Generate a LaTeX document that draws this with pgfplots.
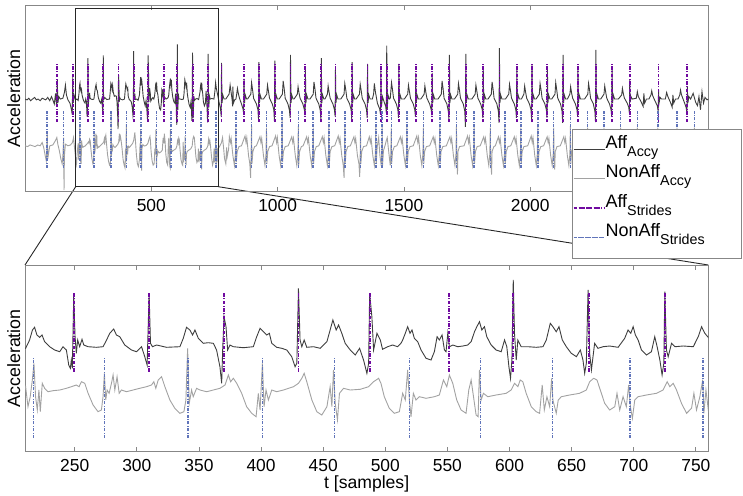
\documentclass[border=0pt]{standalone}
\usepackage{fontspec}
\setmainfont{Liberation Sans}
\usepackage{pgfplots}
\usepackage{pgfplotstable}
\pgfplotsset{compat=1.18}
\definecolor{affc}{RGB}{62,62,62}
\definecolor{nonc}{RGB}{162,162,162}
\definecolor{purp}{RGB}{112,10,160}
\definecolor{bluS}{RGB}{96,116,186}
\definecolor{axgray}{RGB}{135,135,135}
\tikzset{
 affS/.style={color=purp, line width=1.8pt, dash pattern=on 3.5pt off 1.5pt on 1pt off 1.5pt},
 nonS/.style={color=bluS, line width=1.5pt, dash pattern=on 3pt off 1.5pt on 0.8pt off 1.5pt},
}
\newcommand\sub[1]{\raisebox{-8pt}{\fontsize{14.3}{15}\selectfont #1}}
\pgfplotsset{
 myax/.style={
  scale only axis, width=683.3pt, height=186.7pt,
  axis line style={draw=axgray, line width=0.8pt},
  tick style={draw=axgray, line width=0.8pt},
  major tick length=5pt, tick align=inside,
  ytick=\empty,
  scaled x ticks=false,
  /pgf/number format/assume math mode=true,
  /pgf/number format/1000 sep={},
  xticklabel style={font=\fontsize{17.4}{20}\selectfont, anchor=base, inner sep=0pt, yshift=-19.6pt},
  ylabel={Acceleration},
  ylabel style={font=\fontsize{17.8}{20}\selectfont, at={(axis description cs:-0.0073,0.5)}, anchor=base, inner sep=0pt},
  unbounded coords=jump,
 }
}
\pgfplotstableread[row sep=\\]{t y\\
0 105\\ 8 104\\ 15 106\\ 22 103\\ 30 105\\ 38 107\\ 45 104\\ 52 105\\ 60 103\\ 68 106\\ 75 105\\ 82 104\\ 90 107\\ 98 103\\ 105 108\\ 110 104\\ 116 99\\ 121 112\\ 125 96\\ 128 128\\ 130 100\\ 134 108\\ 140 105\\ 150 106\\ 156 113\\ 160 122\\ 164 110\\ 170 104\\ 178 100\\ 184 92\\ 187 86\\ 189 132\\ 191 100\\ 194 110\\ 200 104\\ 205 105\\
210.5 103.4\\ 213.7 111.7\\ 216 121.7\\ 217.7 124.4\\ 219.6 116.7\\ 221.8 114.4\\ 223.7 116.7\\ 225.8 110\\ 229.8 105\\ 233.9 101.7\\ 237.9 100\\ 240.6 105\\ 243.3 101.7\\ 245.2 86.7\\ 246.5 83.4\\ 247.3 91.7\\ 248.1 83.4\\ 249.2 155\\ 250.3 115\\ 251.3 98.4\\ 252.4 111.7\\ 254 105\\ 255.9 112.4\\ 257.3 106.7\\ 260.8 105\\ 267.5 104.4\\ 272.8 105\\ 275 110\\ 278.2 118.4\\ 281.4 122.7\\ 283.6 116.7\\ 286.3 115\\ 290.3 106.7\\ 295.7 101.7\\ 299.7 100\\ 303.8 105\\ 306.4 95\\ 308.3 86.7\\ 309.9 158.4\\ 311 108.4\\ 312.6 105\\ 315.9 106.7\\ 323.9 104.4\\ 334.7 105\\ 337.4 113.4\\ 340 124.4\\ 342.7 121.7\\ 344.9 116.7\\ 346.8 121.7\\ 349.5 113.4\\ 353.5 108.4\\ 357.5 109\\ 361.6 108.4\\ 364.2 101.7\\ 366.9 85\\ 368.3 68.4\\ 369.1 101.7\\ 370.2 135\\ 371.8 125\\ 373.1 101.7\\ 375 106.7\\ 377.7 105\\ 385.7 104\\ 393.8 105\\ 396.5 115\\ 399.2 123.4\\ 401.9 120\\ 404.6 116.7\\ 406.7 118.4\\ 408.6 108.4\\ 412.6 104.4\\ 416.7 103.4\\ 420.7 101.7\\ 424.7 95\\ 427.4 85\\ 428.8 88.4\\ 430.1 163.4\\ 431.4 111.7\\ 432.8 105\\ 434.7 111.7\\ 436.8 104.4\\ 442.2 105\\ 447.6 103.4\\ 453 110\\ 455.6 121.7\\ 457.8 131.7\\ 460.5 121.7\\ 462.4 126.7\\ 465 118.4\\ 467.7 108.4\\ 471.8 101.7\\ 475.8 96.7\\ 479.3 103.4\\ 482.5 91.7\\ 485.2 78.4\\ 486.6 88.4\\ 487.4 158.4\\ 489.2 135\\ 490.6 101.7\\ 493.3 118.4\\ 496 111.7\\ 497.8 102.4\\ 501.9 105\\ 505.9 106.7\\ 509.9 105\\ 512.6 108.4\\ 514 111.7\\ 516.1 118.4\\ 518 125\\ 519.9 118.4\\ 521.5 121.7\\ 523.4 113.4\\ 526.1 110\\ 528.8 101.7\\ 532.8 93.4\\ 536.8 91.7\\ 539.5 100\\ 541.7 115\\ 543.5 111.7\\ 545.7 116.7\\ 547.6 101.7\\ 548.9 100\\ 550.3 118.4\\ 551.6 105\\ 554.3 106.7\\ 558.3 105\\ 562.4 105.7\\ 566.4 106.7\\ 569.1 110\\ 571.8 120\\ 573.7 125\\ 575.8 130\\ 577.7 121.7\\ 579.8 125\\ 581.7 115\\ 585.2 106.7\\ 589.2 101.7\\ 593.3 100\\ 596 111.7\\ 597.8 105\\ 599.5 85\\ 600.8 73.4\\ 601.9 91.7\\ 603 171.7\\ 604 118.4\\ 605.4 91.7\\ 606.7 111.7\\ 609.4 105\\ 614.8 105\\ 621.5 104.4\\ 626.9 105\\ 629.6 111.7\\ 632.8 128.4\\ 634.9 125\\ 637.6 120\\ 639.8 125\\ 642.5 111.7\\ 645.7 105\\ 649.7 98.4\\ 653.8 95\\ 657 101.7\\ 659.1 91.7\\ 660.5 78.4\\ 661.8 88.4\\ 663.2 161.7\\ 664.5 98.4\\ 665.9 81.7\\ 668.5 108.4\\ 671.2 103.4\\ 675.3 105\\ 680.6 105.7\\ 687.4 104.4\\ 692.7 113.4\\ 695.4 121.7\\ 697.6 118.4\\ 699.5 125\\ 701.3 116.7\\ 703.5 111.7\\ 706.2 101.7\\ 710.2 96.7\\ 714.2 100\\ 716.9 115\\ 718.8 105\\ 721 91.7\\ 722.8 76.7\\ 724.2 88.4\\ 725 160\\ 726.3 101.7\\ 727.7 95\\ 730.4 108.4\\ 733.1 105\\ 739.8 105.7\\ 747.9 105\\ 751.9 115\\ 754.6 125\\ 757.2 118.4\\ 759.9 114.4\\
764 108\\ 769 100\\ 774 93\\ 776.5 84\\ 778 149\\ 780 100\\ 783 110\\ 788 105\\
795 105\\ 808 111\\ 812 122\\ 816 113\\ 820 104\\ 822 96\\ 823 120\\ 825 100\\ 830 104\\
835 105\\ 838 111\\ 841 118\\ 845 111\\ 849 106\\ 857 99\\ 863 93\\ 865.5 88\\ 867 130\\ 869 100\\ 872 110\\ 877 105\\
881 105\\ 894 111\\ 897 125\\ 901 116\\ 905 106\\ 916 99\\ 922 92\\ 924.5 80\\ 926 150\\ 928 100\\ 931 110\\ 936 105\\
944 105\\ 957 111\\ 960 122\\ 964 114\\ 968 106\\ 979 99\\ 985 92\\ 987.5 78\\ 989 152\\ 991 100\\ 994 110\\ 999 105\\
1006 105\\ 1019 111\\ 1022 127\\ 1026 118\\ 1030 106\\ 1041 99\\ 1047 91\\ 1049.5 82\\ 1051 159\\ 1053 100\\ 1056 110\\ 1061 105\\
1065 105\\ 1078 111\\ 1081 120\\ 1085 112\\ 1089 106\\ 1100 99\\ 1106 92\\ 1108.5 85\\ 1110 142\\ 1112 100\\ 1115 110\\ 1120 105\\
1128 105\\ 1141 111\\ 1144 126\\ 1148 117\\ 1152 106\\ 1163 99\\ 1169 91\\ 1171.5 78\\ 1173 155\\ 1175 100\\ 1178 110\\ 1183 105\\
1187 105\\ 1197 111\\ 1200 121\\ 1204 113\\ 1208 106\\ 1219 99\\ 1225 92\\ 1227.5 84\\ 1229 142\\ 1231 100\\ 1234 110\\ 1239 105\\
1250 105\\ 1263 111\\ 1266 124\\ 1270 116\\ 1274 106\\ 1285 99\\ 1291 92\\ 1293.5 80\\ 1295 150\\ 1297 100\\ 1300 110\\ 1305 105\\
1311 105\\ 1324 111\\ 1327 123\\ 1331 115\\ 1335 106\\ 1346 99\\ 1352 92\\ 1354.5 82\\ 1356 148\\ 1358 100\\ 1361 110\\ 1366 105\\
1375 105\\ 1380 111\\ 1383 124\\ 1387 114\\ 1395 100\\ 1404 93\\ 1407.5 86\\ 1409 140\\ 1411 95\\ 1415 108\\ 1420 103\\ 1428 96\\ 1430.5 88\\ 1432 170\\ 1434 92\\ 1437 110\\ 1442 105\\
1446 106\\ 1451 125\\ 1455 116\\ 1459 106\\ 1470 99\\ 1476 92\\ 1478.5 82\\ 1480 148\\ 1482 100\\ 1485 110\\ 1490 105\\
1502 105\\ 1515 111\\ 1518 122\\ 1522 114\\ 1526 106\\ 1537 99\\ 1543 92\\ 1545.5 84\\ 1547 137\\ 1549 100\\ 1552 110\\ 1557 105\\
1567 105\\ 1580 111\\ 1583 121\\ 1587 113\\ 1591 106\\ 1602 99\\ 1608 92\\ 1610.5 85\\ 1612 137\\ 1614 100\\ 1617 110\\ 1622 105\\
1635 105\\ 1648 111\\ 1651 127\\ 1655 118\\ 1659 106\\ 1670 99\\ 1676 90\\ 1678.5 78\\ 1680 159\\ 1682 100\\ 1685 110\\ 1690 105\\
1700 105\\ 1713 111\\ 1716 124\\ 1720 116\\ 1724 106\\ 1735 99\\ 1741 90\\ 1743.5 71\\ 1745 160\\ 1747 100\\ 1750 110\\ 1755 105\\
1769 105\\ 1782 111\\ 1785 122\\ 1789 114\\ 1793 106\\ 1804 99\\ 1810 92\\ 1812.5 82\\ 1814 145\\ 1816 100\\ 1819 110\\ 1824 105\\
1833 105\\ 1846 111\\ 1849 126\\ 1853 117\\ 1857 106\\ 1868 99\\ 1874 90\\ 1876.5 76\\ 1878 167\\ 1880 100\\ 1883 110\\ 1888 105\\
1902 105\\ 1915 111\\ 1918 123\\ 1922 115\\ 1926 106\\ 1937 99\\ 1943 92\\ 1945.5 82\\ 1947 145\\ 1949 100\\ 1952 110\\ 1957 105\\
1965 105\\ 1975 111\\ 1978 121\\ 1982 113\\ 1986 106\\ 1997 99\\ 2003 92\\ 2005.5 80\\ 2007 147\\ 2009 100\\ 2012 110\\ 2017 105\\
2023 105\\ 2036 111\\ 2039 124\\ 2043 116\\ 2047 106\\ 2058 99\\ 2064 92\\ 2066.5 82\\ 2068 145\\ 2070 100\\ 2073 110\\ 2078 105\\
2085 105\\ 2098 111\\ 2101 125\\ 2105 116\\ 2109 106\\ 2120 99\\ 2126 90\\ 2128.5 76\\ 2130 159\\ 2132 100\\ 2135 110\\ 2140 105\\
2147 105\\ 2157 111\\ 2160 120\\ 2164 112\\ 2168 106\\ 2179 99\\ 2185 92\\ 2187.5 84\\ 2189 142\\ 2191 100\\ 2194 110\\ 2199 105\\
2215 105\\ 2228 111\\ 2231 124\\ 2235 116\\ 2239 106\\ 2250 99\\ 2256 90\\ 2258.5 77\\ 2260 165\\ 2262 100\\ 2265 110\\ 2270 105\\
2279 105\\ 2292 111\\ 2295 121\\ 2299 113\\ 2303 106\\ 2314 99\\ 2320 92\\ 2322.5 84\\ 2324 142\\ 2326 100\\ 2329 110\\ 2334 105\\
2349 105\\ 2362 110\\ 2365 118\\ 2369 111\\ 2373 106\\ 2384 100\\ 2390 95\\ 2392.5 88\\ 2394 128\\ 2396 101\\ 2399 108\\ 2404 105\\
2420 106\\ 2424 114\\ 2428 108\\ 2440 101\\ 2447 96\\ 2450 112\\ 2453 100\\ 2460 105\\
2470 105\\ 2478 110\\ 2481 115\\ 2485 109\\ 2495 102\\ 2503 97\\ 2506.5 90\\ 2508 116\\ 2510 100\\ 2514 107\\ 2520 105\\
2535 105\\ 2540 113\\ 2545 108\\ 2555 101\\ 2562 95\\ 2565 110\\ 2568 100\\ 2575 105\\
2585 105\\ 2592 110\\ 2595 116\\ 2599 110\\ 2610 101\\ 2617 95\\ 2620.5 88\\ 2622 120\\ 2624 100\\ 2628 108\\ 2635 105\\
2645 112\\ 2655 101\\ 2662 97\\ 2668 108\\ 2674 92\\ 2680 114\\ 2686 100\\ 2692 107\\ 2700 104\\ 2705 105\\
}\aff
\pgfplotstableread[row sep=\\]{t y\\
0 62\\ 10 61\\ 20 63\\ 30 62\\ 40 61\\ 50 63\\ 60 62\\ 68 66\\ 74 60\\ 80 50\\ 84 44\\ 86 56\\ 88 80\\ 90 46\\ 93 52\\ 98 62\\ 110 63\\ 120 68\\ 126 72\\ 130 64\\ 136 56\\ 142 46\\ 147 40\\ 150 50\\ 153 72\\ 154.5 8\\ 156 50\\ 160 64\\ 170 62\\ 180 63\\ 188 66\\ 192 72\\ 196 60\\ 200 48\\ 204 40\\ 207 55\\
210.5 65\\ 212.4 45\\ 214.2 55\\ 215.9 71.7\\ 217.2 88.4\\ 218.5 55\\ 219.9 41.7\\ 221.2 61.7\\ 222.3 40\\ 223.9 68.4\\ 225.8 63.4\\ 228.5 60\\ 232.5 61\\ 237.9 61.7\\ 243.3 63.4\\ 247.3 65\\ 251.3 66.7\\ 253.5 65\\ 255.4 70\\ 258.1 68.4\\ 260.8 58.4\\ 264.8 46.7\\ 268.8 40\\ 271.5 41.7\\ 272.8 55\\ 273.9 78.4\\ 275 51.7\\ 276.1 61.7\\ 277.7 58.4\\ 279.6 68.4\\ 280.9 76.7\\ 282.3 61.7\\ 284.1 75\\ 285.8 58.4\\ 287.6 61.7\\ 291.7 60\\ 297 61.7\\ 302.4 63.4\\ 307.8 65\\ 311.8 66.7\\ 313.7 70\\ 315.3 63.4\\ 317.2 71.7\\ 319.9 75\\ 322.6 65\\ 326.6 51.7\\ 330.6 43.4\\ 334.7 38.4\\ 337.9 40\\ 339.5 51.7\\ 340.9 103.4\\ 342.2 48.4\\ 344.1 61.7\\ 345.4 55\\ 348.1 63.4\\ 350.8 61.7\\ 356.2 60\\ 361.6 61.7\\ 366.9 63.4\\ 371 66.7\\ 373.7 76.7\\ 375.5 70\\ 377.7 73.4\\ 380.4 68.4\\ 384.4 58.4\\ 388.4 45\\ 392.5 38.4\\ 396 35\\ 397.8 58.4\\ 399.2 41.7\\ 401.1 88.4\\ 402.4 45\\ 404 61.7\\ 405.9 51.7\\ 408.6 61.7\\ 412.6 60\\ 418 61.7\\ 426.1 65\\ 430.1 68.4\\ 432.8 73.4\\ 434.7 78.4\\ 436.8 70\\ 440.9 51.7\\ 444.9 40\\ 448.9 36.7\\ 453 45\\ 455.6 65\\ 457 45\\ 458.3 81.7\\ 459.7 48.4\\ 461.5 31.7\\ 463.1 58.4\\ 466.4 63.4\\ 471.8 61.7\\ 479.8 62.4\\ 486.6 65\\ 490.6 70\\ 494.6 73.4\\ 496.5 68.4\\ 499.2 55\\ 503.2 43.4\\ 507.3 38.4\\ 511.3 40\\ 514 58.4\\ 516.1 51.7\\ 518 81.7\\ 519.4 51.7\\ 520.7 35\\ 522.6 58.4\\ 524.7 51.7\\ 527.4 55\\ 532.8 53.4\\ 539.5 55\\ 543.5 56.7\\ 546.8 71.7\\ 549.5 65\\ 551.6 76.7\\ 554.3 68.4\\ 557.5 51.7\\ 561 41.7\\ 565 38.4\\ 567.2 61.7\\ 569.1 71.7\\ 571 55\\ 573.1 36.7\\ 574.7 35\\ 575.8 81.7\\ 577.1 51.7\\ 579 58.4\\ 582.5 55\\ 589.2 56.7\\ 597.3 58.4\\ 601.3 61.7\\ 604 68.4\\ 606.7 65\\ 608.6 71.7\\ 610.7 70\\ 613.4 58.4\\ 617.5 45\\ 621.5 40\\ 624.2 38.4\\ 626.3 66.7\\ 628 41.7\\ 630.1 55\\ 632.3 45\\ 633.9 73.4\\ 634.9 51.7\\ 637.6 38.4\\ 639.2 51.7\\ 641.7 55\\ 648.4 56.7\\ 656.4 58.4\\ 661.8 61.7\\ 664.5 70\\ 667.7 73.4\\ 670.4 71.7\\ 672.6 63.4\\ 676.6 48.4\\ 680.6 41.7\\ 684.7 45\\ 686.5 58.4\\ 688.7 41.7\\ 691.4 55\\ 694 45\\ 695.9 66.7\\ 697.3 45\\ 698.9 33.4\\ 700.8 51.7\\ 703.5 55\\ 710.2 56.7\\ 718.3 58.4\\ 723.6 61.7\\ 726.9 70\\ 729 65\\ 731.7 68.4\\ 734.4 61.7\\ 738.4 48.4\\ 742.5 38.4\\ 746.5 43.4\\ 748.4 58.4\\ 750.5 41.7\\ 753.2 55\\ 755.5 72\\ 756.4 38.4\\ 758.1 61.7\\ 760 41.7\\
763 58\\ 770 61\\ 778 66\\ 782 72\\ 786 60\\ 790 46\\ 795 40\\ 798 60\\ 800 48\\ 806 58\\
809 73\\ 813 66\\ 816 71\\ 823 50\\ 829 38\\ 833 52\\ 835 84\\ 836.5 42\\ 840 55\\ 847 61\\
857 62\\ 871 74\\ 875 66\\ 878 72\\ 885 50\\ 890 40\\ 893 23\\ 895 52\\ 897 86\\ 898.5 40\\ 902 55\\ 909 61\\
916 62\\ 930 73\\ 934 66\\ 937 71\\ 944 50\\ 950 38\\ 954 52\\ 956 84\\ 957.5 40\\ 961 55\\ 968 61\\
978 62\\ 992 74\\ 996 66\\ 999 72\\ 1006 50\\ 1012 38\\ 1016 52\\ 1018 95\\ 1019.5 42\\ 1023 55\\ 1030 61\\
1042 62\\ 1056 73\\ 1060 66\\ 1063 71\\ 1070 50\\ 1076 38\\ 1080 52\\ 1082 86\\ 1083.5 38\\ 1087 55\\ 1094 61\\
1101 62\\ 1115 73\\ 1119 66\\ 1122 71\\ 1129 50\\ 1135 38\\ 1139 52\\ 1141 84\\ 1142.5 40\\ 1146 55\\ 1153 61\\
1163 62\\ 1177 73\\ 1181 66\\ 1184 72\\ 1191 50\\ 1197 38\\ 1201 52\\ 1203 86\\ 1204.5 38\\ 1208 55\\ 1215 61\\
1226 62\\ 1240 74\\ 1244 66\\ 1247 71\\ 1254 50\\ 1260 38\\ 1263 23\\ 1265 52\\ 1266 86\\ 1267.5 40\\ 1271 55\\ 1278 61\\
1288 62\\ 1302 73\\ 1306 66\\ 1309 71\\ 1316 50\\ 1322 40\\ 1325 24\\ 1327 52\\ 1328 84\\ 1329.5 40\\ 1333 55\\ 1340 61\\
1352 62\\ 1363 73\\ 1367 66\\ 1370 71\\ 1377 50\\ 1383 38\\ 1387 52\\ 1389 86\\ 1390.5 40\\ 1394 60\\ 1400 72\\ 1405 50\\ 1410 38\\ 1412 52\\ 1414 86\\ 1415.5 38\\ 1419 56\\ 1425 62\\
1430 68\\ 1434 72\\ 1438 60\\ 1443 46\\ 1446 38\\ 1448 52\\ 1450 84\\ 1451.5 40\\ 1455 55\\ 1462 61\\
1472 62\\ 1486 73\\ 1490 66\\ 1493 71\\ 1500 50\\ 1506 38\\ 1510 52\\ 1512 86\\ 1513.5 40\\ 1517 55\\ 1524 61\\
1537 62\\ 1551 74\\ 1555 66\\ 1558 72\\ 1565 50\\ 1571 38\\ 1575 52\\ 1577 84\\ 1578.5 40\\ 1582 55\\ 1589 61\\
1602 62\\ 1616 73\\ 1620 66\\ 1623 71\\ 1630 50\\ 1636 38\\ 1640 52\\ 1642 88\\ 1643.5 40\\ 1647 55\\ 1654 61\\
1668 62\\ 1682 73\\ 1686 66\\ 1689 71\\ 1696 50\\ 1702 38\\ 1706 52\\ 1708 86\\ 1709.5 45\\ 1712 27\\ 1714 55\\ 1720 61\\
1738 62\\ 1752 74\\ 1756 66\\ 1759 72\\ 1766 50\\ 1772 38\\ 1776 52\\ 1778 86\\ 1779.5 40\\ 1783 55\\ 1790 61\\
1802 62\\ 1816 73\\ 1820 66\\ 1823 71\\ 1830 50\\ 1836 38\\ 1840 52\\ 1842 84\\ 1843.5 45\\ 1847 27\\ 1849 55\\ 1856 61\\
1862 62\\ 1874 73\\ 1878 66\\ 1881 71\\ 1888 50\\ 1894 38\\ 1898 52\\ 1900 86\\ 1901.5 40\\ 1905 55\\ 1912 61\\
1923 62\\ 1937 73\\ 1941 66\\ 1944 71\\ 1951 50\\ 1957 38\\ 1961 52\\ 1963 84\\ 1964.5 40\\ 1968 55\\ 1975 61\\
1990 62\\ 2004 74\\ 2008 66\\ 2011 72\\ 2018 50\\ 2024 38\\ 2028 52\\ 2030 86\\ 2031.5 40\\ 2035 55\\ 2042 61\\
2053 62\\ 2067 73\\ 2071 66\\ 2074 71\\ 2081 50\\ 2087 38\\ 2091 52\\ 2093 84\\ 2094.5 45\\ 2097 33\\ 2099 55\\ 2106 61\\
2119 62\\ 2133 73\\ 2137 66\\ 2140 71\\ 2147 50\\ 2153 38\\ 2157 52\\ 2159 86\\ 2160.5 40\\ 2164 55\\ 2171 61\\
2187 62\\ 2201 73\\ 2205 66\\ 2208 71\\ 2215 50\\ 2221 38\\ 2225 52\\ 2227 84\\ 2228.5 40\\ 2232 55\\ 2239 61\\
2252 62\\ 2266 73\\ 2270 66\\ 2273 71\\ 2280 50\\ 2286 38\\ 2290 52\\ 2292 84\\ 2293.5 40\\ 2297 55\\ 2304 61\\
2318 62\\ 2332 73\\ 2336 66\\ 2339 71\\ 2346 50\\ 2352 38\\ 2356 52\\ 2358 84\\ 2359.5 40\\ 2363 55\\ 2370 61\\
2384 62\\ 2398 73\\ 2402 66\\ 2405 71\\ 2412 50\\ 2418 38\\ 2422 52\\ 2424 84\\ 2425.5 40\\ 2429 55\\ 2436 61\\
2465 62\\ 2479 73\\ 2483 66\\ 2486 71\\ 2493 50\\ 2499 38\\ 2503 52\\ 2505 84\\ 2506.5 40\\ 2510 55\\ 2517 61\\
2541 62\\ 2555 73\\ 2559 66\\ 2562 71\\ 2569 50\\ 2575 38\\ 2579 52\\ 2581 84\\ 2582.5 40\\ 2586 55\\ 2593 61\\
2610 62\\ 2624 73\\ 2628 66\\ 2631 71\\ 2638 50\\ 2644 38\\ 2648 52\\ 2650 84\\ 2651.5 40\\ 2655 55\\ 2662 61\\
2675 63\\ 2690 61\\ 2705 62\\
}\nonaff
\begin{document}
\begin{tikzpicture}
\path[use as bounding box] (0pt,0pt) rectangle (743pt,-495pt);
% zoom connectors (behind the legend)
\draw[black!85, line width=0.9pt] (75.7pt,-186.7pt) -- (25pt,-265pt);
\draw[black!85, line width=0.9pt] (218.3pt,-186.7pt) -- (708.3pt,-265pt);
% ---------- top axis ----------
\begin{axis}[myax,
  at={(25pt,-191.7pt)}, anchor=south west,
  xmin=0, xmax=2705, ymin=-8, ymax=219.7,
  xtick={500,1000,1500,2000},
  legend cell align=left,
  legend style={at={(0.801,0.3385)}, anchor=north west, draw=axgray, line width=0.8pt, fill=white,
    inner xsep=0pt, inner ysep=5.5pt, row sep=0pt, column sep=0pt,
    nodes={inner sep=0pt, text height=13.8pt, text depth=15.7pt},
    font=\fontsize{18}{20}\selectfont},
]
\addplot[affc, line width=0.9pt,
  legend image code/.code={\draw[affc, line width=0.9pt] (5pt,0pt) -- (28pt,0pt); \path (0pt,0pt) -- (31pt,0pt);}]
  table[x=t, y=y] {\aff};
\addlegendentry{\makebox[136pt][l]{Aff\sub{Accy}}}
\addplot[nonc, line width=0.9pt,
  legend image code/.code={\draw[nonc, line width=0.9pt] (5pt,0pt) -- (28pt,0pt); \path (0pt,0pt) -- (31pt,0pt);}]
  table[x=t, y expr=\thisrow{y}-14] {\nonaff};
\addlegendentry{\makebox[136pt][l]{NonAff\sub{Accy}}}
\addplot[affS,
  legend image code/.code={\draw[affS, line width=1.4pt] (5pt,0pt) -- (28pt,0pt); \path (0pt,0pt) -- (31pt,0pt);}]
  table[row sep=\\] {x y\\
128 77\\ 128 149\\ 128 nan\\ 189 77\\ 189 149\\ 189 nan\\ 249 77\\ 249 149\\ 249 nan\\ 310 77\\ 310 149\\ 310 nan\\
370 77\\ 370 149\\ 370 nan\\ 430 77\\ 430 149\\ 430 nan\\ 488 77\\ 488 149\\ 488 nan\\ 551 77\\ 551 149\\ 551 nan\\
603 77\\ 603 149\\ 603 nan\\ 664 77\\ 664 149\\ 664 nan\\ 726 77\\ 726 149\\ 726 nan\\ 778 77\\ 778 149\\ 778 nan\\
867 77\\ 867 149\\ 867 nan\\ 926 77\\ 926 149\\ 926 nan\\ 989 77\\ 989 149\\ 989 nan\\ 1051 77\\ 1051 149\\ 1051 nan\\
1110 77\\ 1110 149\\ 1110 nan\\ 1173 77\\ 1173 149\\ 1173 nan\\ 1229 77\\ 1229 149\\ 1229 nan\\ 1295 77\\ 1295 149\\ 1295 nan\\
1356 77\\ 1356 149\\ 1356 nan\\ 1409 77\\ 1409 149\\ 1409 nan\\ 1432 77\\ 1432 149\\ 1432 nan\\ 1480 77\\ 1480 149\\ 1480 nan\\
1547 77\\ 1547 149\\ 1547 nan\\ 1612 77\\ 1612 149\\ 1612 nan\\ 1680 77\\ 1680 149\\ 1680 nan\\ 1745 77\\ 1745 149\\ 1745 nan\\
1814 77\\ 1814 149\\ 1814 nan\\ 1878 77\\ 1878 149\\ 1878 nan\\ 1947 77\\ 1947 149\\ 1947 nan\\ 2007 77\\ 2007 149\\ 2007 nan\\
2068 77\\ 2068 149\\ 2068 nan\\ 2130 77\\ 2130 149\\ 2130 nan\\ 2189 77\\ 2189 149\\ 2189 nan\\ 2260 77\\ 2260 149\\ 2260 nan\\
2324 77\\ 2324 149\\ 2324 nan\\ 2394 77\\ 2394 149\\ 2394 nan\\ 2508 77\\ 2508 149\\ 2508 nan\\ 2622 77\\ 2622 149\\ 2622 nan\\
};
\addlegendentry{\makebox[136pt][l]{Aff\sub{Strides}}}
\addplot[nonS,
  legend image code/.code={\draw[nonS, line width=1.1pt] (5pt,0pt) -- (28pt,0pt); \path (0pt,0pt) -- (31pt,0pt);}]
  table[row sep=\\] {x y\\
88 21\\ 88 91.6\\ 88 nan\\ 153 21\\ 153 91.6\\ 153 nan\\ 217 21\\ 217 91.6\\ 217 nan\\ 274 21\\ 274 91.6\\ 274 nan\\
341 21\\ 341 91.6\\ 341 nan\\ 401 21\\ 401 91.6\\ 401 nan\\ 459 21\\ 459 91.6\\ 459 nan\\ 520 21\\ 520 91.6\\ 520 nan\\
577 21\\ 577 91.6\\ 577 nan\\ 635 21\\ 635 91.6\\ 635 nan\\ 697 21\\ 697 91.6\\ 697 nan\\ 756 21\\ 756 91.6\\ 756 nan\\
835 21\\ 835 91.6\\ 835 nan\\ 897 21\\ 897 91.6\\ 897 nan\\ 956 21\\ 956 91.6\\ 956 nan\\ 1018 21\\ 1018 91.6\\ 1018 nan\\
1082 21\\ 1082 91.6\\ 1082 nan\\ 1141 21\\ 1141 91.6\\ 1141 nan\\ 1203 21\\ 1203 91.6\\ 1203 nan\\ 1266 21\\ 1266 91.6\\ 1266 nan\\
1328 21\\ 1328 91.6\\ 1328 nan\\ 1389 21\\ 1389 91.6\\ 1389 nan\\ 1414 21\\ 1414 91.6\\ 1414 nan\\ 1450 21\\ 1450 91.6\\ 1450 nan\\
1512 21\\ 1512 91.6\\ 1512 nan\\ 1577 21\\ 1577 91.6\\ 1577 nan\\ 1642 21\\ 1642 91.6\\ 1642 nan\\ 1708 21\\ 1708 91.6\\ 1708 nan\\
1778 21\\ 1778 91.6\\ 1778 nan\\ 1842 21\\ 1842 91.6\\ 1842 nan\\ 1900 21\\ 1900 91.6\\ 1900 nan\\ 1963 21\\ 1963 91.6\\ 1963 nan\\
2030 21\\ 2030 91.6\\ 2030 nan\\ 2093 21\\ 2093 91.6\\ 2093 nan\\ 2159 21\\ 2159 91.6\\ 2159 nan\\ 2227 21\\ 2227 91.6\\ 2227 nan\\
2292 21\\ 2292 91.6\\ 2292 nan\\ 2358 21\\ 2358 91.6\\ 2358 nan\\ 2424 21\\ 2424 91.6\\ 2424 nan\\ 2505 21\\ 2505 91.6\\ 2505 nan\\
2581 21\\ 2581 91.6\\ 2581 nan\\ 2650 21\\ 2650 91.6\\ 2650 nan\\
};
\addlegendentry{\makebox[136pt][l]{NonAff\sub{Strides}}}
\end{axis}
% ---------- bottom axis ----------
\begin{axis}[myax,
  at={(25pt,-451.7pt)}, anchor=south west,
  xmin=210, xmax=760, ymin=0, ymax=186.7,
  xtick={250,300,350,400,450,500,550,600,650,700,750},
  xlabel={t [samples]},
  xlabel style={font=\fontsize{17.6}{20}\selectfont, at={(axis description cs:0.5,-0.1965)}, anchor=base, inner sep=0pt},
]
\addplot[affc, line width=0.9pt] table[x=t, y=y] {\aff};
\addplot[nonc, line width=0.9pt] table[x=t, y=y] {\nonaff};
\addplot[affS] table[row sep=\\] {x y\\
249.2 80\\ 249.2 160\\ 249.2 nan\\ 309.9 80\\ 309.9 160\\ 309.9 nan\\ 370 80\\ 370 160\\ 370 nan\\
430.1 80\\ 430.1 160\\ 430.1 nan\\ 487.4 80\\ 487.4 160\\ 487.4 nan\\ 551.4 80\\ 551.4 160\\ 551.4 nan\\
603 80\\ 603 160\\ 603 nan\\ 663.8 80\\ 663.8 160\\ 663.8 nan\\ 725.4 80\\ 725.4 160\\ 725.4 nan\\
};
\addplot[nonS] table[row sep=\\] {x y\\
217 13.7\\ 217 93.7\\ 217 nan\\ 274 13.7\\ 274 93.7\\ 274 nan\\ 341 13.7\\ 341 93.7\\ 341 nan\\
401 13.7\\ 401 93.7\\ 401 nan\\ 459 13.7\\ 459 93.7\\ 459 nan\\ 519.6 13.7\\ 519.6 93.7\\ 519.6 nan\\
576.6 13.7\\ 576.6 93.7\\ 576.6 nan\\ 634.7 13.7\\ 634.7 93.7\\ 634.7 nan\\ 696.8 13.7\\ 696.8 93.7\\ 696.8 nan\\
755.8 13.7\\ 755.8 93.7\\ 755.8 nan\\
};
\end{axis}
% zoom rectangle on the top axis
\draw[black!85, line width=0.9pt] (75.7pt,-8.3pt) rectangle (218.3pt,-186.7pt);
\end{tikzpicture}
\end{document}
